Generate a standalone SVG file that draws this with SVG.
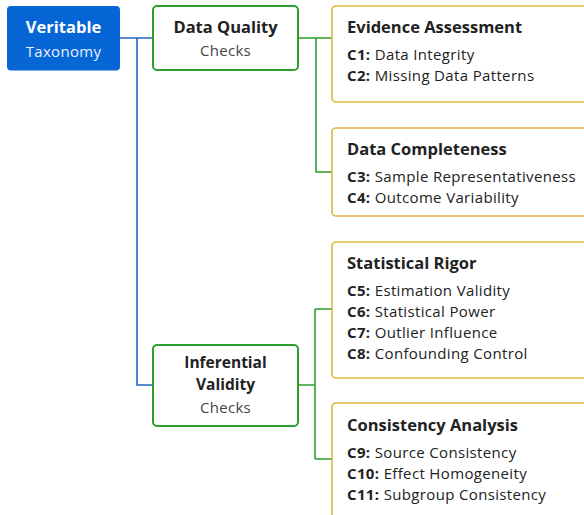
<svg xmlns="http://www.w3.org/2000/svg" width="584" height="515" viewBox="0 0 584 515">
<style>
text{font-family:"Open Sans","Noto Sans","Liberation Sans",sans-serif;fill:#222}
.t{font-weight:700;font-size:16.5px}
.i{font-size:15px;letter-spacing:0.35px}
.i tspan.b{font-weight:700}
.c{text-anchor:middle}
.sub{font-size:15px;fill:#444;letter-spacing:0.3px}
.card{fill:#fff;stroke:#e3b43c;stroke-width:1.6}
.grp{fill:#fff;stroke:#2ca02c;stroke-width:2}
.lb{fill:none;stroke:#1f66c4;stroke-width:1.6}
.lg{fill:none;stroke:#2ca02c;stroke-width:1.6}
</style>
<g id="connectors">
<path class="lb" d="M120,38H153M137,38V385H153"/>
<path class="lg" d="M298,38H316V172H332M316,38H332"/>
<path class="lg" d="M298,385H315M315,309V459M315,309H332M315,459H332"/>
</g>
<g id="root">
<rect x="7" y="6" width="113" height="64.5" rx="4" fill="#0766d6"/>
<text class="c t" x="63.5" y="33" style="fill:#fff">Veritable</text>
<text class="c sub" x="63.5" y="57" style="fill:#e6efff">Taxonomy</text>
</g>
<g id="data-quality">
<rect class="grp" x="153" y="6" width="145" height="64" rx="4"/>
<text class="c t" x="225.5" y="33">Data Quality</text>
<text class="c sub" x="225.5" y="56">Checks</text>
</g>
<g id="inferential-validity">
<rect class="grp" x="153" y="345" width="145" height="81" rx="4"/>
<text class="c t" x="225.5" y="368" style="font-size:15.5px">Inferential</text>
<text class="c t" x="225.5" y="389.5" style="font-size:15.5px">Validity</text>
<text class="c sub" x="225.5" y="413">Checks</text>
</g>
<g id="evidence-assessment">
<rect class="card" x="332" y="6" width="260" height="96" rx="4"/>
<text class="t" x="347" y="33">Evidence Assessment</text>
<text class="i" x="347" y="60"><tspan class="b">C1:</tspan> Data Integrity</text>
<text class="i" x="347" y="81"><tspan class="b">C2:</tspan> Missing Data Patterns</text>
</g>
<g id="data-completeness">
<rect class="card" x="332" y="128" width="260" height="88" rx="4"/>
<text class="t" x="347" y="155">Data Completeness</text>
<text class="i" x="347" y="182"><tspan class="b">C3:</tspan> Sample Representativeness</text>
<text class="i" x="347" y="203"><tspan class="b">C4:</tspan> Outcome Variability</text>
</g>
<g id="statistical-rigor">
<rect class="card" x="332" y="242" width="260" height="136" rx="4"/>
<text class="t" x="347" y="269">Statistical Rigor</text>
<text class="i" x="347" y="295.5"><tspan class="b">C5:</tspan> Estimation Validity</text>
<text class="i" x="347" y="316.5"><tspan class="b">C6:</tspan> Statistical Power</text>
<text class="i" x="347" y="337.5"><tspan class="b">C7:</tspan> Outlier Influence</text>
<text class="i" x="347" y="358.5"><tspan class="b">C8:</tspan> Confounding Control</text>
</g>
<g id="consistency-analysis">
<rect class="card" x="332" y="403" width="260" height="130" rx="4"/>
<text class="t" x="347" y="431">Consistency Analysis</text>
<text class="i" x="347" y="457.5"><tspan class="b">C9:</tspan> Source Consistency</text>
<text class="i" x="347" y="478.5"><tspan class="b">C10:</tspan> Effect Homogeneity</text>
<text class="i" x="347" y="499.5"><tspan class="b">C11:</tspan> Subgroup Consistency</text>
</g>
</svg>
